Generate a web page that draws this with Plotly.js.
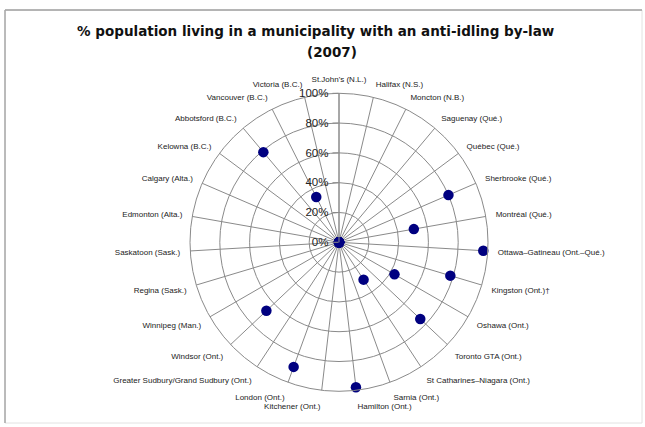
<!DOCTYPE html>
<html>
<head>
<meta charset="utf-8">
<script src="https://cdn.plot.ly/plotly-3.0.1.min.js"></script>
<style>
  html, body { margin: 0; padding: 0; background: #ffffff; }
  #chart { width: 645px; height: 427px; }
</style>
</head>
<body>
<div id="chart"></div>
<script>
// Census metropolitan areas, clockwise from the top
const cities = [
  "St.John's (N.L.)", "Halifax (N.S.)", "Moncton (N.B.)", "Saguenay (Qué.)",
  "Québec (Qué.)", "Sherbrooke (Qué.)", "Montréal (Qué.)",
  "Ottawa–Gatineau (Ont.–Qué.)", "Kingston (Ont.)†", "Oshawa (Ont.)",
  "Toronto GTA (Ont.)", "St Catharines–Niagara (Ont.)", "Sarnia (Ont.)",
  "Hamilton (Ont.)", "Kitchener (Ont.)", "London (Ont.)",
  "Greater Sudbury/Grand Sudbury (Ont.)", "Windsor (Ont.)", "Winnipeg (Man.)",
  "Regina (Sask.)", "Saskatoon (Sask.)", "Edmonton (Alta.)", "Calgary (Alta.)",
  "Kelowna (B.C.)", "Abbotsford (B.C.)", "Vancouver (B.C.)", "Victoria (B.C.)"
];

// % of population living in a municipality with an anti-idling by-law
const sharePct = [
  0, 0, 0, 0,
  0, 80, 51,
  97, 78, 43,
  75, 30, 0,
  98, 0, 89,
  0, 67, 0,
  0, 0, 0, 0,
  0, 79, 34, 0
];

const radialTicks = [0, 20, 40, 60, 80, 100];

const W = 645, H = 427;
// polar plot centre and radius in page pixels
const cx = 339, cy = 242.3, R = 149;
const px = v => v / W;
const py = v => 1 - v / H;

const trace = {
  type: 'scatterpolar',
  mode: 'markers',
  r: sharePct,
  theta: cities,
  cliponaxis: false,
  marker: { color: '#000080', size: 10.5 },
  hoverinfo: 'skip',
  showlegend: false
};

const gridColor = '#8a8a8a';
const titleFont = { family: 'DejaVu Sans, Verdana, sans-serif', size: 13.5, color: '#111111', weight: 'bold' };

const layout = {
  width: W,
  height: H,
  margin: { l: 0, r: 0, t: 0, b: 0 },
  paper_bgcolor: '#ffffff',
  font: { family: 'Liberation Sans, Arial, sans-serif', color: '#222222' },
  showlegend: false,
  title: {
    text: '% population living in a municipality with an anti-idling by-law',
    font: titleFont,
    x: px(315.7), xanchor: 'center',
    y: py(31), yanchor: 'middle',
    xref: 'paper', yref: 'paper'
  },
  annotations: [{
    text: '(2007)',
    font: titleFont,
    x: px(331.7), y: py(52), xref: 'paper', yref: 'paper',
    xanchor: 'center', yanchor: 'middle', showarrow: false
  }],
  polar: {
    domain: {
      x: [px(cx - R), px(cx + R)],
      y: [(H - cy - R) / H, (H - cy + R) / H]
    },
    bgcolor: '#ffffff',
    gridshape: 'circular',
    angularaxis: {
      type: 'category',
      categoryorder: 'array',
      categoryarray: cities,
      rotation: 90,
      direction: 'clockwise',
      showgrid: true,
      gridcolor: gridColor,
      gridwidth: 1,
      showline: true,
      linecolor: gridColor,
      linewidth: 1,
      // invisible ticks keep the city names clear of the outer ring
      ticks: 'outside',
      ticklen: 8,
      tickcolor: 'rgba(0,0,0,0)',
      tickfont: { size: 8, color: '#222222' }
    },
    radialaxis: {
      range: [0, 100],
      tickvals: radialTicks,
      ticktext: radialTicks.map(v => v + '%'),
      angle: 90,
      side: 'counterclockwise',
      showline: true,
      linecolor: gridColor,
      linewidth: 1,
      ticks: 'outside',
      ticklen: 6,
      tickcolor: gridColor,
      showgrid: true,
      gridcolor: gridColor,
      gridwidth: 1,
      tickangle: 90,
      tickfont: { size: 11.5, color: '#222222' }
    }
  },
  shapes: [
    { type: 'rect', xref: 'paper', yref: 'paper',
      x0: px(5), x1: px(642), y0: py(423), y1: py(10),
      line: { color: '#e2e2e2', width: 1 } },
    { type: 'line', xref: 'paper', yref: 'paper',
      x0: px(5), x1: px(642), y0: py(10), y1: py(10),
      line: { color: '#a0a0a0', width: 1.5 } },
    { type: 'line', xref: 'paper', yref: 'paper',
      x0: px(5), x1: px(5), y0: py(10), y1: py(423),
      line: { color: '#a8a8a8', width: 1.5 } }
  ]
};

Plotly.newPlot('chart', [trace], layout, { staticPlot: true, displayModeBar: false });
</script>
</body>
</html>
